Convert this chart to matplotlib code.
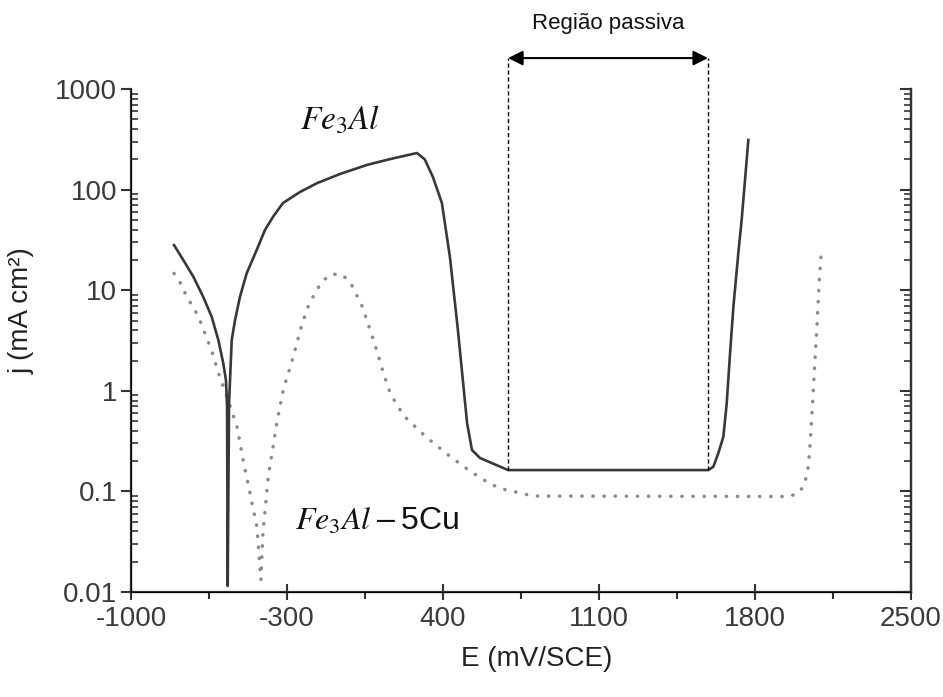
import matplotlib
matplotlib.use('Agg')
import matplotlib.pyplot as plt

plt.rcParams['font.family'] = ['Liberation Sans', 'DejaVu Sans']
plt.rcParams['mathtext.fontset'] = 'custom'
plt.rcParams['mathtext.it'] = 'STIXGeneral:italic'
plt.rcParams['mathtext.rm'] = 'STIXGeneral'
plt.rcParams['mathtext.sf'] = 'Liberation Sans'

# Fe3Al (solid)
fe3al_e = [-807, -765, -720, -676, -638, -608, -586, -574, -569, -566, -560, -548,
           -533, -511, -481, -436, -399, -363, -318, -242, -165, -62, 59, 162, 283,
           318, 355, 395, 431, 467, 508, 530, 566, 692,
           1590, 1613, 1635, 1658, 1673, 1688, 1703, 1725, 1740, 1755, 1770]
fe3al_j = [28.1, 19.9, 13.6, 8.6, 5.45, 3.2, 1.88, 1.28, 0.72, 0.0115, 0.75, 3.2,
           5.06, 8.6, 14.7, 25.1, 39.6, 53.5, 73.6, 94.6, 116, 143, 176, 201, 231,
           200, 133, 73.6, 21.4, 4.0, 0.479, 0.258, 0.215, 0.163,
           0.163, 0.176, 0.239, 0.350, 0.752, 2.36, 6.86, 23.3, 49.9, 124, 311]

# Fe3Al-5Cu (dotted)
cu_e = [-807, -773, -750, -720, -694, -676, -658, -638, -623, -608, -569, -524,
        -497, -466, -435, -417, -408, -384, -346, -317, -274, -234, -200, -144,
        -99, -50, -10, 38, 72, 103, 132, 165, 225, 319, 417, 518, 611, 665, 804,
        1943, 1988, 2020, 2029, 2039, 2047, 2056, 2067, 2078, 2088, 2099]
cu_j = [14.7, 11.3, 8.6, 6.76, 5.26, 4.11, 3.25, 2.50, 1.95, 1.51, 0.867, 0.436,
        0.205, 0.0964, 0.0443, 0.0132, 0.0386, 0.140, 0.475, 1.02, 2.10, 4.51,
        7.41, 12.2, 14.5, 14.2, 11.3, 6.86, 4.08, 2.51, 1.51, 0.922, 0.562, 0.356,
        0.236, 0.161, 0.119, 0.106, 0.090,
        0.089, 0.094, 0.113, 0.138, 0.176, 0.296, 0.62, 1.68, 4.51, 12.2, 26.4]

passive_start = 692
passive_end = 1589
passive_j = 0.163
arrow_j = 2030

xticks = [-1000, -300, 400, 1100, 1800, 2500]
yticks = [0.01, 0.1, 1, 10, 100, 1000]
ytick_labels = ['0.01', '0.1', '1', '10', '100', '1000']

fig = plt.figure(figsize=(9.43, 6.97), dpi=100)
ax = fig.add_axes([0.1389, 0.1506, 0.8272, 0.7217])

ax.plot(cu_e, cu_j, color='#8a8a8a', lw=2.5, linestyle=(0, (0.1, 3.1)),
        dash_capstyle='round')
ax.plot(fe3al_e, fe3al_j, color='#383838', lw=1.9)

ax.set_yscale('log')
ax.set_xlim(-1000, 2500)
ax.set_ylim(0.01, 1000)
ax.set_xticks(xticks)
ax.set_xticklabels([str(v) for v in xticks])
ax.set_xticks([-650, 50, 750, 1450, 2150], minor=True)
ax.set_yticks(yticks)
ax.set_yticklabels(ytick_labels)

for s in ['left', 'bottom', 'right']:
    ax.spines[s].set_color('#333333')
    ax.spines[s].set_linewidth(1.6)
ax.spines['top'].set_visible(False)

ax.tick_params(axis='x', which='major', direction='inout', length=12, width=1.5,
               colors='#333333', labelsize=20, pad=4)
ax.tick_params(axis='x', which='minor', direction='out', length=5, width=1.5,
               colors='#333333')
ax.tick_params(axis='y', which='major', direction='out', length=7, width=1.5,
               colors='#333333', labelsize=20, pad=3)
ax.tick_params(axis='y', which='minor', direction='in', length=5, width=1.2,
               colors='#333333')
for lab in ax.get_xticklabels() + ax.get_yticklabels():
    lab.set_color('#3a3a3a')

ax2 = ax.twinx()
ax2.set_yscale('log')
ax2.set_ylim(0.01, 1000)
ax2.set_yticks(yticks)
ax2.tick_params(axis='y', which='major', direction='in', length=8, width=1.5,
                colors='#333333', labelright=False)
ax2.tick_params(axis='y', which='minor', direction='in', length=5, width=1.2,
                colors='#333333')
ax2.spines['top'].set_visible(False)
ax2.spines['right'].set_color('#333333')
ax2.spines['right'].set_linewidth(1.6)

# passive region markers
for xv in [passive_start, passive_end]:
    ax.plot([xv, xv], [passive_j, arrow_j], color='black', lw=1.0,
            linestyle=(0, (3, 2)), clip_on=False)
ax.annotate('', xy=(passive_start, arrow_j), xytext=(passive_end, arrow_j),
            arrowprops=dict(arrowstyle='<|-|>', color='black', lw=1.5,
                            mutation_scale=22, shrinkA=0, shrinkB=0),
            annotation_clip=False)
fig.text(0.645, 0.967, 'Região passiva', fontsize=16, ha='center', va='center',
         color='#111111')

ax.text(-62, 492, r'$Fe_3Al$', fontsize=24, ha='center', va='center', color='#111111')
ax.text(104, 0.0497, r'$Fe_3Al - \mathsf{5Cu}$', fontsize=23, ha='center',
        va='center', color='#111111')

ax.set_xlabel('E (mV/SCE)', fontsize=20, color='#222222')
ax.set_ylabel('j (mA cm²)', fontsize=20, color='#222222')
ax.xaxis.set_label_coords(0.52, -0.108)
ax.yaxis.set_label_coords(-0.123, 0.56)

fig.savefig('out.png', dpi=100)
